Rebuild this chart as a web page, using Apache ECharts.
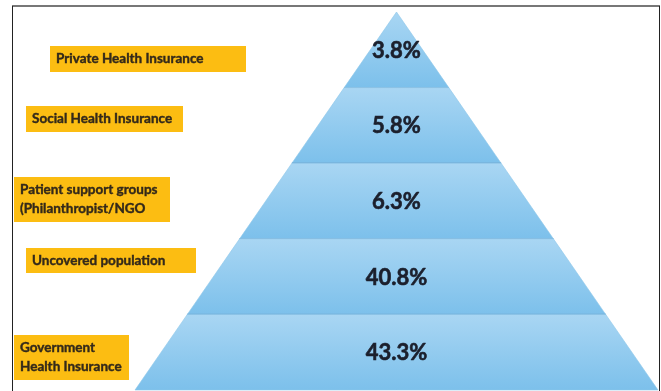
<!DOCTYPE html>
<html>
<head>
<meta charset="utf-8">
<script src="https://cdn.jsdelivr.net/npm/echarts@6/dist/echarts.min.js"></script>
<style>
  html, body { margin: 0; padding: 0; background: #fff; }
  #chart { width: 661px; height: 391px; }
</style>
</head>
<body>
<div id="chart"></div>
<script>
// Coverage tiers, listed from the apex of the pyramid down to its base
const categories = [
  'Private Health Insurance',
  'Social Health Insurance',
  'Patient support groups\n(Philanthropist/NGO',
  'Uncovered population',
  'Government\nHealth Insurance'
];
const shares = [3.8, 5.8, 6.3, 40.8, 43.3];

// Placement of each orange caption box (pixels, relative to the chart)
const captionBoxes = [
  { x: 50, y: 46, w: 196, h: 26 },
  { x: 26, y: 106, w: 157, h: 26 },
  { x: 14, y: 177, w: 156, h: 45 },
  { x: 26, y: 248, w: 170, h: 25 },
  { x: 14, y: 335, w: 115, h: 45 }
];

const layerCount = categories.length;
const chart = echarts.init(document.getElementById('chart'));

const layerFill = new echarts.graphic.LinearGradient(0, 0, 0, 1, [
  { offset: 0, color: '#a9d6f3' },
  { offset: 1, color: '#7cc0eb' }
]);

chart.setOption({
  backgroundColor: '#ffffff',
  animation: false,
  grid: { left: 135, right: 3, top: 12, bottom: 1 },
  xAxis: { type: 'value', min: -1, max: 1, show: false },
  yAxis: { type: 'value', min: 0, max: layerCount, inverse: true, show: false },
  graphic: [
    // frame around the figure
    { type: 'line', shape: { x1: 12, y1: 6, x2: 660, y2: 6 }, style: { stroke: '#777', lineWidth: 2 }, z: 10 },
    { type: 'line', shape: { x1: 12.5, y1: 6, x2: 12.5, y2: 391 }, style: { stroke: '#222', lineWidth: 1 }, z: 10 },
    { type: 'line', shape: { x1: 659.5, y1: 6, x2: 659.5, y2: 391 }, style: { stroke: '#222', lineWidth: 1 }, z: 10 }
  ],
  series: [{
    type: 'custom',
    coordinateSystem: 'cartesian2d',
    data: shares.map((v, i) => [i, v]),
    renderItem: function (params, api) {
      const i = api.value(0);
      const top = i, bottom = i + 1;
      const tHalf = top / layerCount, bHalf = bottom / layerCount;
      const p1 = api.coord([-tHalf, top]);
      const p2 = api.coord([tHalf, top]);
      const p3 = api.coord([bHalf, bottom]);
      const p4 = api.coord([-bHalf, bottom]);
      const mid = api.coord([0, i + 0.5]);
      const box = captionBoxes[i];
      const children = [
        {
          type: 'polygon',
          shape: { points: [p1, p2, p3, p4] },
          style: { fill: layerFill, stroke: '#8cc6ea', lineWidth: 0.6 }
        },
        {
          type: 'text',
          style: {
            x: mid[0], y: mid[1] + 1,
            text: api.value(1).toFixed(1) + '%',
            align: 'center', verticalAlign: 'middle',
            font: 'bold 22px Lato, "Open Sans", sans-serif',
            fill: '#1b1f2c', stroke: '#1b1f2c', lineWidth: 0.6
          }
        },
        {
          type: 'rect',
          shape: { x: box.x, y: box.y, width: box.w, height: box.h },
          style: { fill: '#fcbd12' }
        },
        {
          type: 'text',
          style: {
            x: box.x + 6, y: box.y + box.h / 2,
            text: categories[i],
            align: 'left', verticalAlign: 'middle',
            font: 'bold 13.5px Lato, "Open Sans", sans-serif',
            lineHeight: 19,
            fill: '#33291a', stroke: '#33291a', lineWidth: 0.4
          }
        }
      ];
      // darker rule separating this tier from the one below
      if (bottom < layerCount) {
        children.push({
          type: 'line',
          shape: { x1: p4[0], y1: p4[1], x2: p3[0], y2: p3[1] },
          style: { stroke: '#6ea7cf', lineWidth: 1.2 }
        });
      }
      return { type: 'group', children: children };
    }
  }]
});
</script>
</body>
</html>
